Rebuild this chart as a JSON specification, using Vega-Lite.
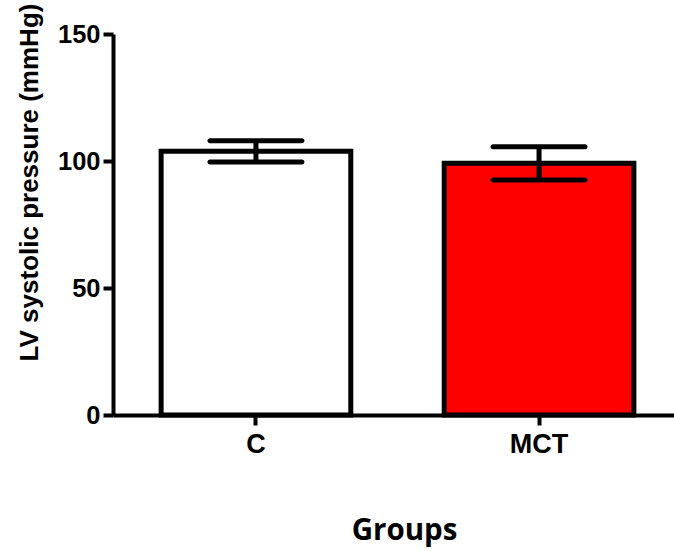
{
  "$schema": "https://vega.github.io/schema/vega-lite/v6.json",
  "autosize": "none",
  "width": 569,
  "height": 381,
  "padding": {"left": 113, "top": 34, "right": 0, "bottom": 136},
  "background": "white",
  "config": {
    "view": {"stroke": null},
    "axis": {
      "domainColor": "black",
      "domainWidth": 4,
      "tickColor": "black",
      "tickWidth": 4,
      "tickSize": 10,
      "grid": false,
      "labelFont": "Liberation Sans",
      "labelFontWeight": "bold",
      "labelFontSize": 25.5,
      "labelColor": "black",
      "titleColor": "black"
    }
  },
  "data": {
    "values": [
      {"group": "C", "mean": 103.8, "low": 99.6, "high": 108.0},
      {"group": "MCT", "mean": 99.1, "low": 92.5, "high": 105.6}
    ]
  },
  "encoding": {
    "x": {
      "field": "group",
      "type": "nominal",
      "sort": ["C", "MCT"],
      "scale": {"paddingInner": 0.33, "paddingOuter": 0.17},
      "axis": {
        "title": "Groups",
        "titleFont": "Open Sans",
        "titleFontWeight": "bold",
        "titleFontSize": 29.5,
        "titleX": 291,
        "titleY": 124,
        "titleAlign": "center",
        "titleBaseline": "alphabetic",
        "labelAngle": 0,
        "labelFontSize": 27,
        "labelPadding": 6
      }
    }
  },
  "layer": [
    {
      "mark": {"type": "bar", "stroke": "black", "strokeWidth": 5},
      "encoding": {
        "y": {
          "field": "mean",
          "type": "quantitative",
          "scale": {"domain": [0, 150], "nice": false},
          "axis": {
            "values": [0, 50, 100, 150],
            "title": "LV systolic pressure (mmHg)",
            "titleFont": "Liberation Sans",
            "titleFontWeight": "bold",
            "titleFontSize": 26,
            "titleAngle": -90,
            "titleAlign": "center",
            "titleBaseline": "alphabetic",
            "titleX": -76,
            "titleY": 148,
            "labelPadding": 3
          }
        },
        "fill": {
          "field": "group",
          "type": "nominal",
          "scale": {"domain": ["C", "MCT"], "range": ["white", "#ff0000"]},
          "legend": null
        }
      }
    },
    {
      "mark": {"type": "rule", "color": "black", "strokeWidth": 5},
      "encoding": {
        "y": {"field": "low", "type": "quantitative"},
        "y2": {"field": "high"}
      }
    },
    {
      "mark": {"type": "tick", "color": "black", "opacity": 1, "size": 97, "thickness": 5, "cornerRadius": 2.5},
      "encoding": {
        "y": {"field": "low", "type": "quantitative"}
      }
    },
    {
      "mark": {"type": "tick", "color": "black", "opacity": 1, "size": 97, "thickness": 5, "cornerRadius": 2.5},
      "encoding": {
        "y": {"field": "high", "type": "quantitative"}
      }
    }
  ]
}
